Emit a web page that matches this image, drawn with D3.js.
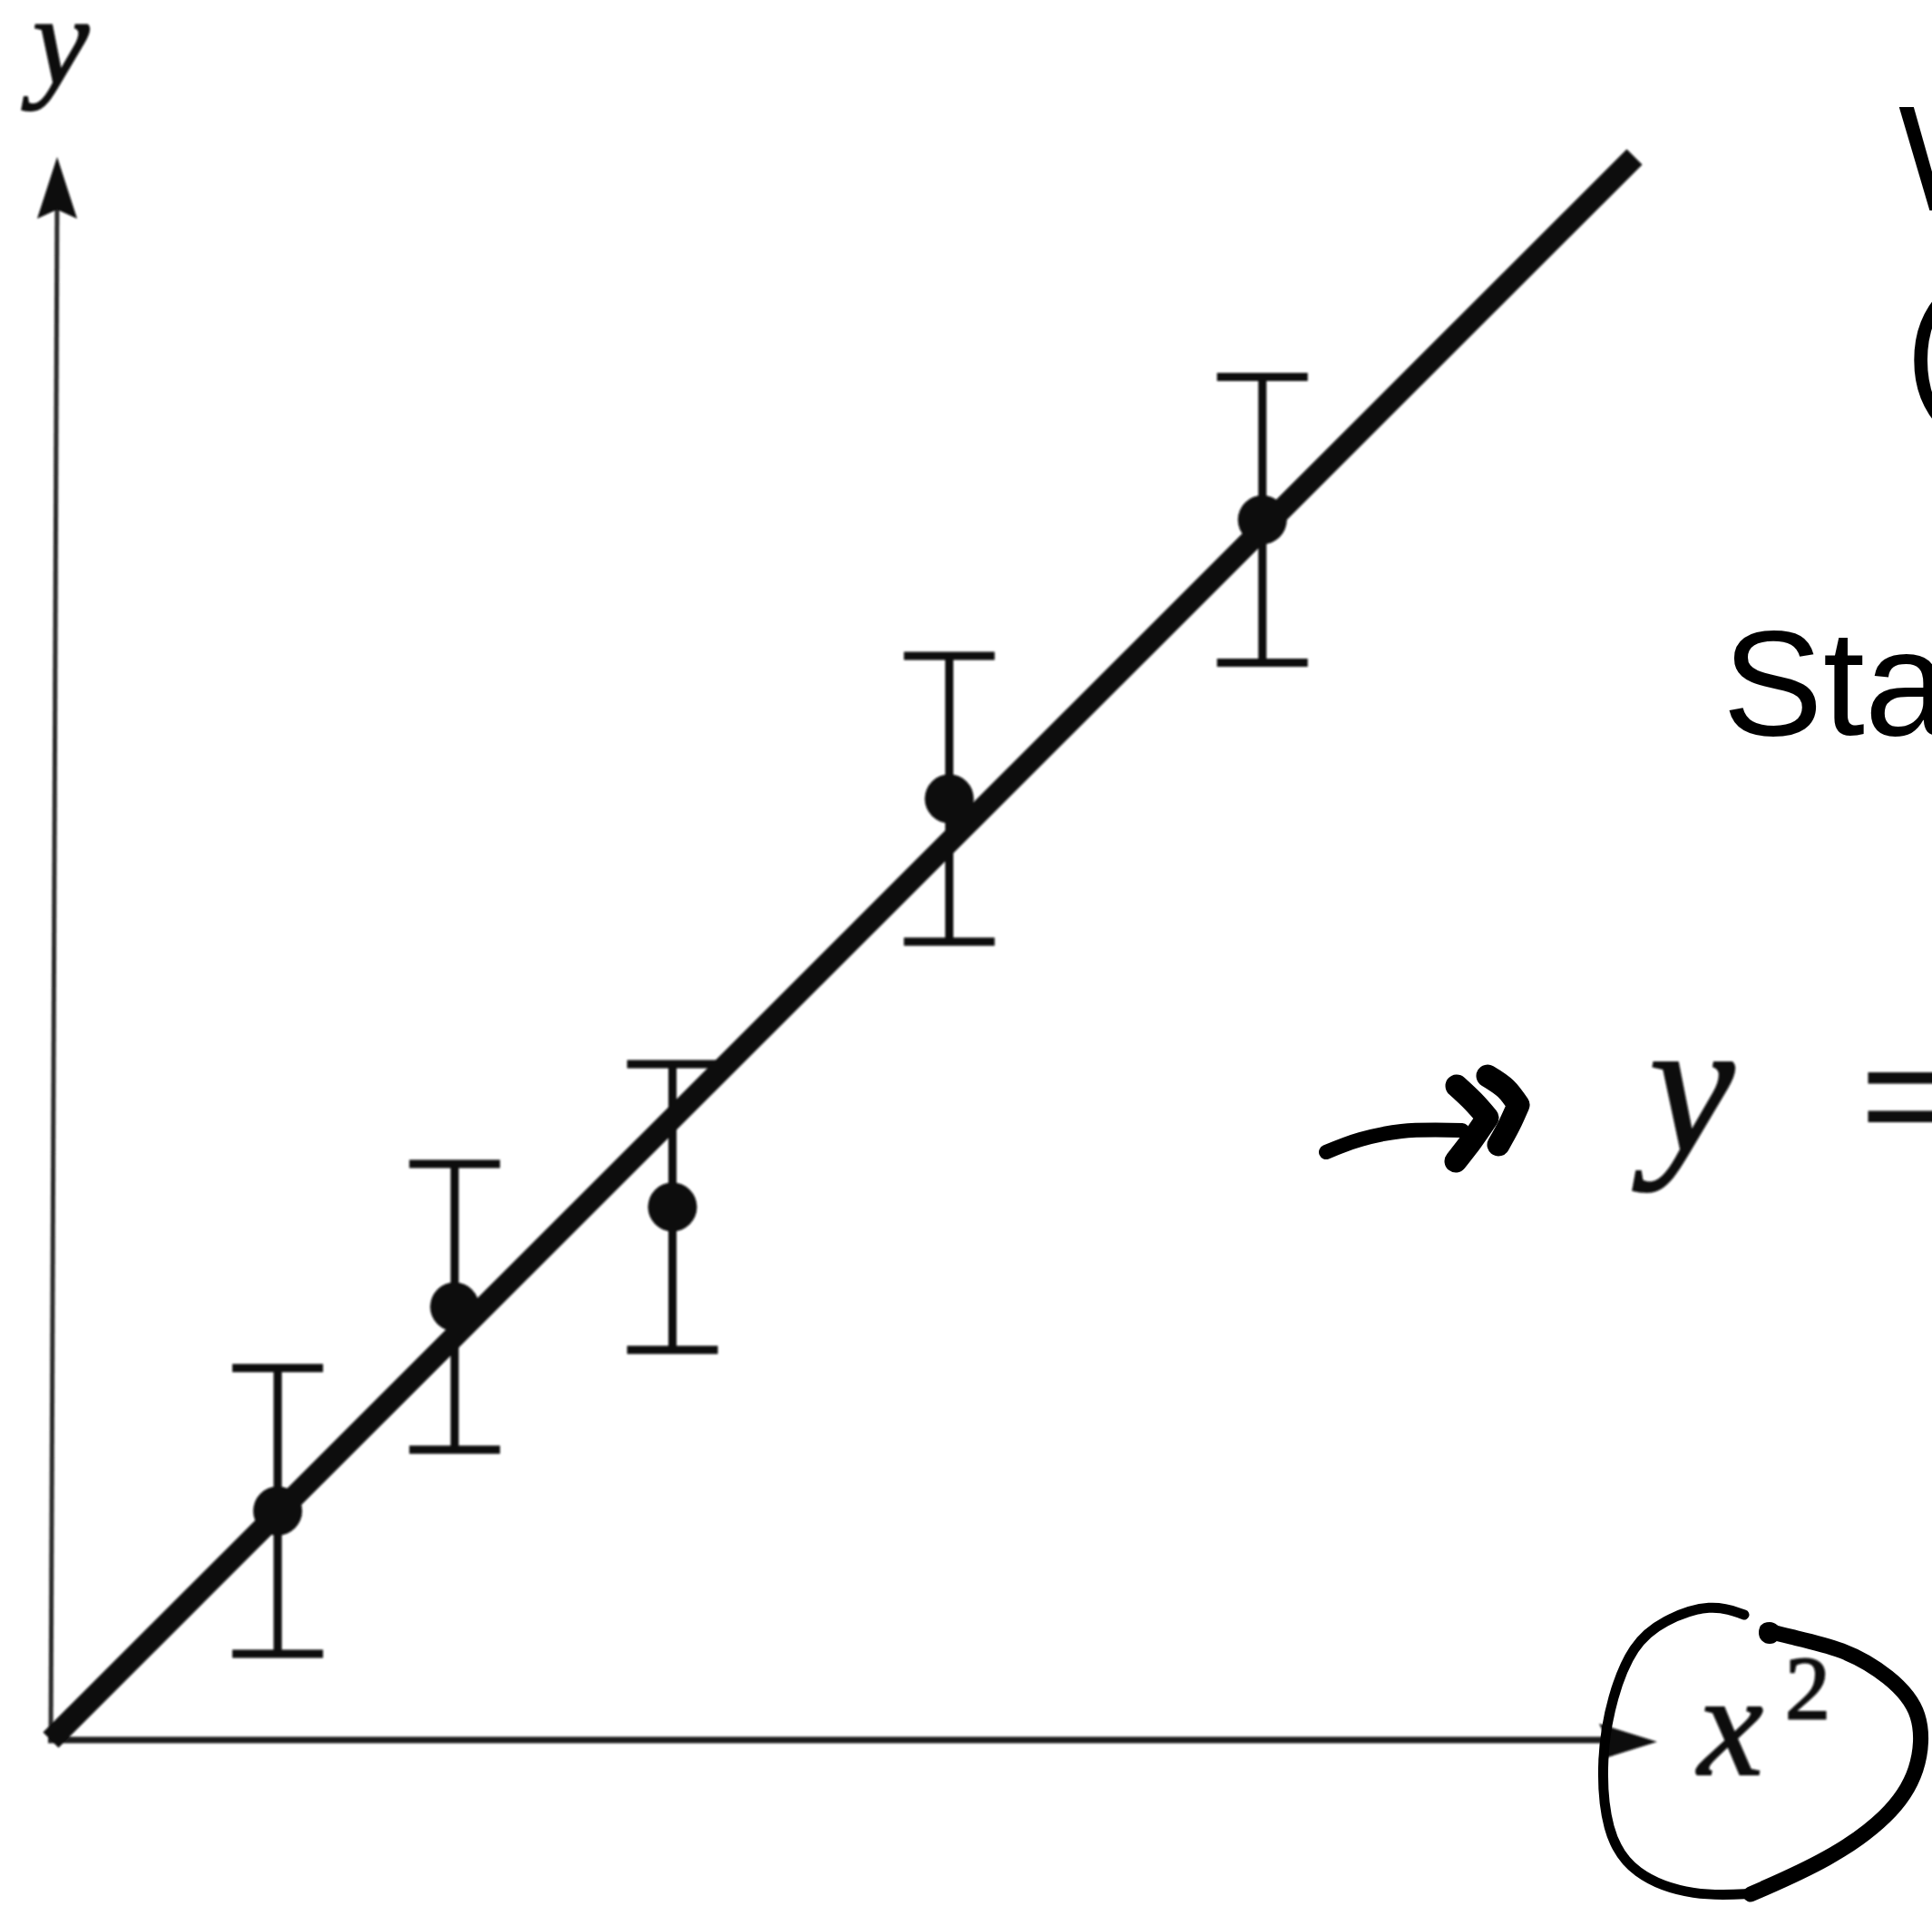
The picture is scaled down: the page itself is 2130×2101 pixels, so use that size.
<!DOCTYPE html>
<html>
<head>
<meta charset="utf-8">
<script src="https://cdn.jsdelivr.net/npm/d3@7"></script>
<style>
  html, body { margin: 0; padding: 0; background: #ffffff; }
  svg { display: block; }
</style>
</head>
<body>
<script>
// Measurements: y against x², with symmetric uncertainties on y
const xSquared = [1.00, 1.78, 2.74, 3.96, 5.34];
const yValues  = [1.01, 1.91, 2.35, 4.15, 5.38];
const yErrors  = [0.63, 0.63, 0.63, 0.63, 0.63];

// Straight-line fit through the origin: y = slope · x²
const fitSlope = 1.0;
const fitRange = [0, 6.98];

// Axis extents (arrow tips) in data units
const xAxisMax = 7.08;
const yAxisMax = 6.98;

// Text
const yAxisLabel = "y";
const xAxisLabel = ["x", "2"];
const sideNotes = ["W", "(", "Sta"];
const equationText = ["y", "="];

const W = 2130, H = 2101;

const svg = d3.select("body").append("svg")
  .attr("width", W).attr("height", H)
  .attr("viewBox", `0 0 ${W} ${H}`);

svg.append("rect").attr("width", W).attr("height", H).attr("fill", "#ffffff");

const defs = svg.append("defs");
defs.append("filter").attr("id", "soft")
  .attr("x", "-5%").attr("y", "-5%").attr("width", "110%").attr("height", "110%")
  .append("feGaussianBlur").attr("stdDeviation", 1.3);

const x = d3.scaleLinear().domain([0, xAxisMax]).range([56, 1827]);
const y = d3.scaleLinear().domain([0, yAxisMax]).range([1918, 173]);

const plot = svg.append("g").attr("filter", "url(#soft)");
const ink = "#0a0a0a";

// ---- axes with arrowheads ----
const x0 = x(0), y0 = y(0);
const yTopX = x0 + 7;              // the vertical axis leans very slightly
plot.append("line")
  .attr("x1", x0).attr("y1", y0 + 3)
  .attr("x2", yTopX).attr("y2", y(yAxisMax) + 40)
  .attr("stroke", "#2a2a2a").attr("stroke-width", 5);
plot.append("path")
  .attr("d", `M${yTopX},${y(yAxisMax)} L${yTopX - 22},${y(yAxisMax) + 68} L${yTopX},${y(yAxisMax) + 58} L${yTopX + 22},${y(yAxisMax) + 68} Z`)
  .attr("fill", ink);

plot.append("line")
  .attr("x1", x0 - 3).attr("y1", y0)
  .attr("x2", x(xAxisMax) - 40).attr("y2", y0)
  .attr("stroke", "#1a1a1a").attr("stroke-width", 7);
plot.append("path")
  .attr("d", `M${x(xAxisMax)},${y0 + 2} L${x(xAxisMax) - 64},${y0 - 18} L${x(xAxisMax) - 54},${y0 + 2} L${x(xAxisMax) - 64},${y0 + 22} Z`)
  .attr("fill", ink);

// ---- fit line ----
plot.append("line")
  .attr("x1", x(fitRange[0])).attr("y1", y(fitSlope * fitRange[0]))
  .attr("x2", x(fitRange[1])).attr("y2", y(fitSlope * fitRange[1]))
  .attr("stroke", ink).attr("stroke-width", 24);

// ---- error bars and points ----
const pts = xSquared.map((v, i) => ({ xv: v, yv: yValues[i], e: yErrors[i] }));
const capHalf = 50;
const bars = plot.append("g").attr("stroke", ink).attr("stroke-width", 9);
pts.forEach(d => {
  const cx = x(d.xv);
  bars.append("line").attr("x1", cx).attr("x2", cx)
    .attr("y1", y(d.yv + d.e)).attr("y2", y(d.yv - d.e));
  bars.append("line").attr("x1", cx - capHalf).attr("x2", cx + capHalf)
    .attr("y1", y(d.yv + d.e)).attr("y2", y(d.yv + d.e));
  bars.append("line").attr("x1", cx - capHalf).attr("x2", cx + capHalf)
    .attr("y1", y(d.yv - d.e)).attr("y2", y(d.yv - d.e));
});
plot.append("g").selectAll("circle").data(pts).join("circle")
  .attr("cx", d => x(d.xv)).attr("cy", d => y(d.yv))
  .attr("r", 27).attr("fill", ink);

// ---- axis labels ----
const serif = "'Liberation Serif', 'DejaVu Serif', serif";
const labelText = (sel) => sel.attr("font-family", serif).attr("fill", ink)
  .attr("stroke", ink).attr("stroke-width", 2);
plot.append("text")
  .attr("x", 36).attr("y", 92)
  .attr("font-style", "italic").attr("font-size", 140)
  .call(labelText)
  .text(yAxisLabel);
plot.append("text")
  .attr("x", 1872).attr("y", 1956)
  .attr("font-style", "italic").attr("font-size", 162)
  .call(labelText)
  .text(xAxisLabel[0]);
plot.append("text")
  .attr("x", 1968).attr("y", 1894)
  .attr("font-size", 100)
  .call(labelText)
  .text(xAxisLabel[1]);

// ---- equation start on the right ----
plot.append("text")
  .attr("x", 1818).attr("y", 1268)
  .attr("font-style", "italic").attr("font-size", 212)
  .call(labelText)
  .text(equationText[0]);
plot.append("text")
  .attr("x", 2050).attr("y", 1280)
  .attr("font-size", 212)
  .call(labelText)
  .text(equationText[1]);

// ---- side notes (run off the right edge) ----
const sans = "'Liberation Sans', Arial, Helvetica, sans-serif";
svg.append("text").attr("x", 2093).attr("y", 232)
  .attr("font-family", sans).attr("font-size", 166).attr("fill", "#000")
  .text(sideNotes[0]);
svg.append("text").attr("x", 2100).attr("y", 440)
  .attr("font-family", sans).attr("font-size", 166).attr("fill", "#000")
  .text(sideNotes[1]);
svg.append("text").attr("x", 1899).attr("y", 810)
  .attr("font-family", sans).attr("font-size", 166).attr("fill", "#000")
  .text(sideNotes[2]);

// ---- hand-drawn pointer arrow ----
const hand = svg.append("g").attr("fill", "none").attr("stroke", "#000")
  .attr("stroke-linecap", "round").attr("stroke-linejoin", "round");
const smooth = d3.line().curve(d3.curveCatmullRom.alpha(0.5));
hand.append("path").attr("stroke-width", 16)
  .attr("d", smooth([[1462, 1270], [1500, 1256], [1545, 1247], [1612, 1246]]));
hand.append("path").attr("stroke-width", 25)
  .attr("d", smooth([[1606, 1197], [1624, 1214], [1640, 1232]]) + smooth([[1640, 1232], [1622, 1258], [1605, 1280]]).replace("M", "L"));
hand.append("path").attr("stroke-width", 25)
  .attr("d", smooth([[1640, 1186], [1660, 1200], [1674, 1218]]) + smooth([[1674, 1218], [1664, 1240], [1652, 1262]]).replace("M", "L"));

// ---- hand-drawn loop around the x² label ----
const loop = d3.line().curve(d3.curveBasis);
hand.append("path").attr("stroke-width", 11)
  .attr("d", loop([[1923, 1780], [1887, 1767], [1833, 1786], [1800, 1813], [1777, 1870],
                   [1765, 1937], [1770, 2020], [1800, 2067], [1867, 2091], [1935, 2087]]));
hand.append("path").attr("stroke-width", 17)
  .attr("d", loop([[1930, 2088], [2017, 2050], [2083, 2003], [2117, 1953], [2121, 1887],
                   [2083, 1847], [2033, 1817], [1967, 1803], [1948, 1797]]));
svg.append("circle").attr("cx", 1951).attr("cy", 1800).attr("r", 12).attr("fill", "#000");
</script>
</body>
</html>
